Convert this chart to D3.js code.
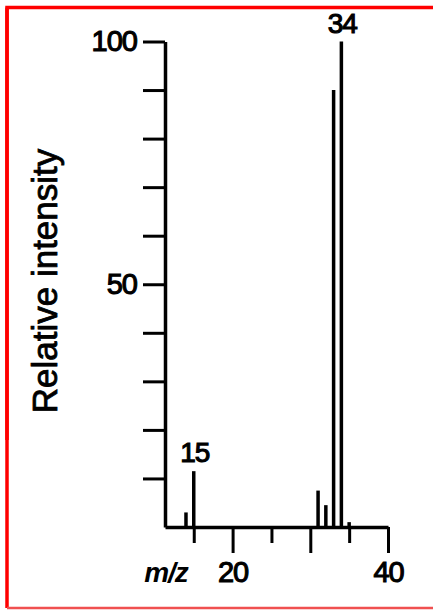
<!DOCTYPE html>
<html>
<head>
<meta charset="utf-8">
<script src="https://cdn.jsdelivr.net/npm/d3@7"></script>
<style>
  html, body { margin: 0; padding: 0; background: #fff; }
  svg { display: block; }
  text { font-family: "Liberation Sans", Arial, sans-serif; fill: #000; }
</style>
</head>
<body>
<svg id="chart" width="433" height="610"></svg>
<script>
// ---- data ----
const mzValues = [14, 15, 31, 32, 33, 34, 35];
const intensities = [3, 11.5, 7.5, 4.5, 90, 100, 1];
const labeledPeaks = [15, 34];
const yTicks = [10, 20, 30, 40, 50, 60, 70, 80, 90, 100];
const yTickLabels = [50, 100];
const xTicks = [15, 20, 25, 30, 35, 40];
const xTickLabels = [20, 40];
const xMajor = [20, 30, 40];
const xLabel = "m/z";
const yLabel = "Relative intensity";

const svg = d3.select("#chart");

// red frame
svg.append("path")
  .attr("d", "M7,440 V7.5 H440")
  .attr("fill", "none").attr("stroke", "#ff0000").attr("stroke-width", 3.5);
svg.append("path")
  .attr("d", "M7,7.5 V608")
  .attr("fill", "none").attr("stroke", "#ff0000").attr("stroke-width", 3.5);
svg.append("line")
  .attr("x1", 7).attr("x2", 440).attr("y1", 608).attr("y2", 608)
  .attr("stroke", "#f05050").attr("stroke-width", 2.5);

const x = d3.scaleLinear().domain([11.3, 40]).range([165, 388]);
const y = d3.scaleLinear().domain([0, 100]).range([527, 41.5]);

// y axis
const yAxis = svg.append("g")
  .attr("transform", `translate(${x.range()[0]},0)`)
  .call(d3.axisLeft(y).tickValues(yTicks).tickSize(22).tickSizeOuter(0).tickPadding(6)
    .tickFormat(d => yTickLabels.includes(d) ? d : ""));
yAxis.select(".domain").attr("stroke", "#000").attr("stroke-width", 3.5);
yAxis.selectAll(".tick line").attr("stroke", "#000").attr("stroke-width", 3);
yAxis.selectAll(".tick text")
  .attr("font-size", 29).attr("stroke", "#000").attr("stroke-width", 1.1)
  .style("letter-spacing", "-1px");

// x axis
const xAxis = svg.append("g")
  .attr("transform", `translate(0,${y(0)})`)
  .call(d3.axisBottom(x).tickValues(xTicks).tickSize(26).tickSizeOuter(0)
    .tickFormat(d => xTickLabels.includes(d) ? d : ""));
xAxis.select(".domain").attr("stroke", "#000").attr("stroke-width", 3.5);
xAxis.selectAll(".tick line")
  .attr("stroke", "#000").attr("stroke-width", 3)
  .attr("y2", d => xMajor.includes(d) ? 26 : 16);
xAxis.selectAll(".tick text")
  .attr("y", 55).attr("dy", 0)
  .attr("font-size", 29).attr("stroke", "#000").attr("stroke-width", 1.1)
  .style("letter-spacing", "-1px");

// x label (italic m/z)
svg.append("text")
  .attr("x", 166).attr("y", y(0) + 55)
  .attr("text-anchor", "middle")
  .attr("font-size", 28).attr("font-style", "italic").attr("font-weight", "bold")
  .style("letter-spacing", "-1px")
  .text(xLabel);

// y label
svg.append("text")
  .attr("transform", `translate(57,281) rotate(-90)`)
  .attr("text-anchor", "middle")
  .attr("font-size", 35)
  .attr("stroke", "#000").attr("stroke-width", 0.8)
  .text(yLabel);

// peaks
const peaks = mzValues.map((m, i) => ({ mz: m, v: intensities[i] }));
svg.append("g").selectAll("line")
  .data(peaks).join("line")
  .attr("x1", d => x(d.mz)).attr("x2", d => x(d.mz))
  .attr("y1", y(0)).attr("y2", d => y(d.v))
  .attr("stroke", "#000").attr("stroke-width", 3.5);

// peak labels
svg.append("g").selectAll("text")
  .data(peaks.filter(d => labeledPeaks.includes(d.mz))).join("text")
  .attr("x", d => x(d.mz) + 1)
  .attr("y", d => y(d.v) - 9)
  .attr("text-anchor", "middle")
  .attr("font-size", 28).attr("stroke", "#000").attr("stroke-width", 1.1)
  .style("letter-spacing", "-1px")
  .text(d => d.mz);
</script>
</body>
</html>
